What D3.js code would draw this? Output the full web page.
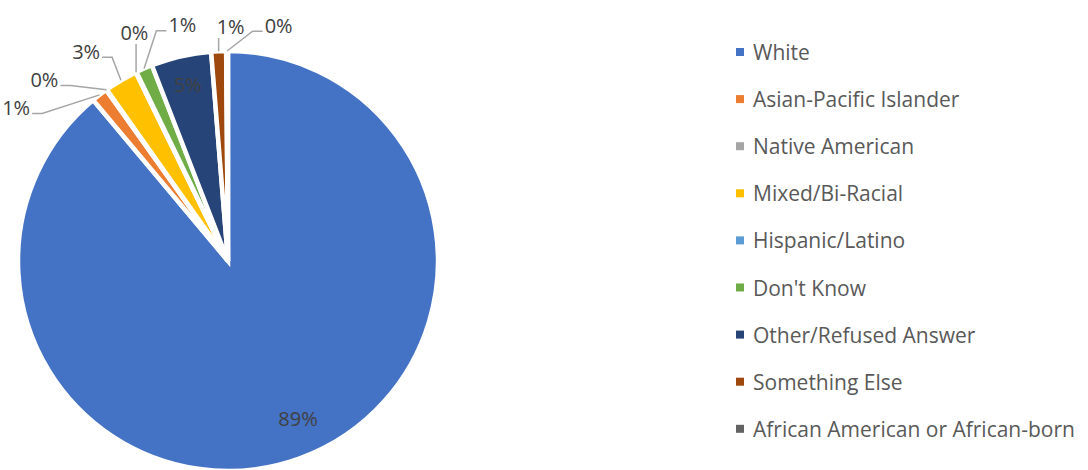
<!DOCTYPE html>
<html><head><meta charset="utf-8">
<script src="https://cdn.jsdelivr.net/npm/d3@7/dist/d3.min.js"></script>
<style>
html,body{margin:0;padding:0;background:#fff;}
svg text{font-family:"Open Sans",sans-serif;}
</style></head>
<body><svg id="chart" width="1088" height="470"></svg>
<script>
const categories = ["White","Asian-Pacific Islander","Native American","Mixed/Bi-Racial","Hispanic/Latino","Don't Know","Other/Refused Answer","Something Else","African American or African-born"];
const values = [88.9, 1.25, 0.06, 2.55, 0.06, 1.28, 4.62, 1.14, 0.14];
const colors = ["#4472C4","#ED7D31","#A5A5A5","#FFC000","#5B9BD5","#70AD47","#264478","#9E480E","#636363"];

const svg = d3.select("#chart");
const cx = 228, cy = 261, R = 210;
const total = d3.sum(values);
const fmt = v => Math.round(v / total * 100) + "%";

const pie = d3.pie().sort(null).value(d => d.v);
const data = categories.map((c, i) => ({c, v: values[i], col: colors[i]}));
const arcs = pie(data);
const arc = d3.arc().innerRadius(0).outerRadius(R);

const g = svg.append("g").attr("transform", `translate(${cx},${cy})`);
g.selectAll("path.slice").data(arcs).join("path")
  .attr("class","slice")
  .attr("d", arc)
  .attr("fill", d => d.data.col)
  .attr("stroke", "#fff").attr("stroke-width", 4.5).attr("stroke-linejoin","miter");

const mid = d => (d.startAngle + d.endAngle) / 2;
const pt = (a, r) => [r * Math.sin(a), -r * Math.cos(a)];

// inside labels for large slices
const inside = arcs.filter(d => d.data.v / total >= 0.04);
const inPos = d => {
  const big = d.data.v / total > 0.5;
  return pt(mid(d) - (big ? 0.07 : 0), R * (big ? 0.82 : 0.86));
};
g.selectAll("text.in").data(inside).join("text")
  .attr("class","in")
  .attr("x", d => inPos(d)[0])
  .attr("y", d => inPos(d)[1])
  .attr("text-anchor","middle").attr("dominant-baseline","central")
  .attr("font-size", 20).attr("fill", "#404040")
  .text(d => fmt(d.data.v));

// outside labels: start at mid angle, push neighbours apart until boxes clear
const outside = arcs.filter(d => d.data.v / total < 0.04).map(d => ({d, a: mid(d)}));
const lbl = g.selectAll("g.out").data(outside).join("g").attr("class","out");
const txt = lbl.append("text")
  .attr("text-anchor","middle").attr("dominant-baseline","central")
  .attr("font-size", 20).attr("fill","#404040")
  .text(o => fmt(o.d.data.v))
  .each(function(o){ o.w = this.getBBox().width; });
const LRof = a => R + 24 + 34 * Math.abs(Math.sin(a));
const posOf = a => pt(a, LRof(a));
const padX = 20, boxH = 28, step = 0.002, leftBound = 2 - cx;
for (let it = 0; it < 8000; it++) {
  let moved = false;
  for (let i = 0; i < outside.length - 1; i++) {
    const p = posOf(outside[i].a), q = posOf(outside[i+1].a);
    const needX = (outside[i].w + outside[i+1].w) / 2 + padX;
    if (Math.abs(p[0] - q[0]) < needX && Math.abs(p[1] - q[1]) < boxH) {
      outside[i].a -= step; outside[i+1].a += step; moved = true;
    }
  }
  outside.forEach(o => {
    if (posOf(o.a)[0] - o.w / 2 < leftBound) { o.a += step; moved = true; }
  });
  if (!moved) break;
}
outside.forEach(o => {
  const p = posOf(o.a);
  o.x = p[0]; o.y = p[1];
  o.s = pt(mid(o.d), R);
});
txt.attr("x", o => o.x).attr("y", o => o.y)
  .each(function(o){ o.b = this.getBBox(); });
lbl.insert("polyline","text")
  .attr("fill","none").attr("stroke","#A6A6A6").attr("stroke-width",1.5)
  .attr("points", o => {
    const b = o.b, sx = o.s[0], sy = o.s[1];
    const midY = b.y + b.height * 0.72;
    let pts;
    if (o.x < sx - 25) {
      const ex = b.x + b.width + 2;
      pts = [[ex, midY],[ex + 10, midY],[sx, sy]];
    } else if (o.x > sx + 25) {
      const ex = b.x - 2;
      pts = [[ex, midY],[ex - 10, midY],[sx, sy]];
    } else {
      const ex = Math.max(b.x, Math.min(b.x + b.width, sx));
      pts = [[ex, b.y + b.height - 2],[sx, sy]];
    }
    return pts.map(p => p.join(",")).join(" ");
  });

// legend
const legX = 736, legY0 = 52, legStep = 47.1;
const leg = svg.append("g").selectAll("g").data(data).join("g")
  .attr("transform", (d,i) => `translate(${legX},${legY0 + i*legStep})`);
leg.append("rect").attr("x",0).attr("y",-4).attr("width",8).attr("height",8).attr("fill", d => d.col);
leg.append("text").attr("x",17).attr("y",0).attr("dominant-baseline","central")
  .attr("font-size",21).attr("fill","#595959").text(d => d.c);
</script>
</body></html>
